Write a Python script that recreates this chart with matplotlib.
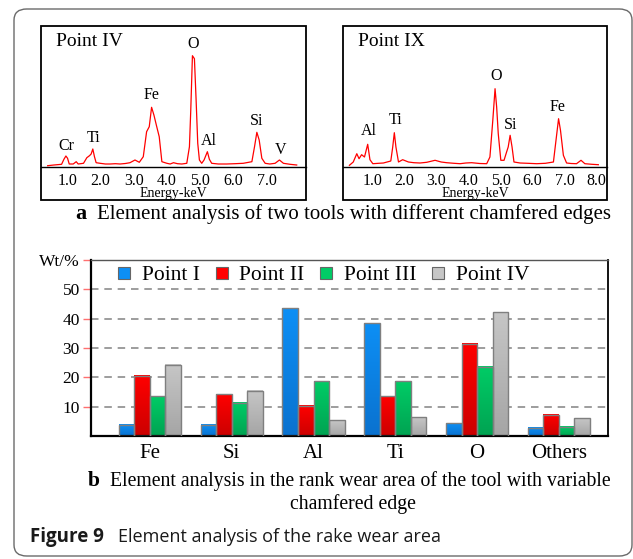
import numpy as np
import matplotlib
matplotlib.use("Agg")
import matplotlib.pyplot as plt
from matplotlib.patches import FancyBboxPatch, Rectangle
from matplotlib.lines import Line2D
from matplotlib.colors import to_rgb

# ---------------- data ----------------
# EDS spectrum, Point IV (energy keV, intensity a.u.)
spec1_e = [0.41, 0.60, 0.83, 0.90, 0.96, 1.01, 1.06, 1.18, 1.27, 1.33, 1.49, 1.59, 1.67, 1.72, 1.77,
           1.82, 1.87, 1.99, 2.15, 2.29, 2.45, 2.59, 2.75, 2.89, 3.04, 3.17, 3.29, 3.39, 3.47, 3.54,
           3.61, 3.69, 3.77, 3.85, 4.00, 4.10, 4.20, 4.32, 4.45, 4.60, 4.68, 4.72, 4.77, 4.83, 4.88,
           4.93, 4.98, 5.05, 5.12, 5.22, 5.28, 5.35, 5.55, 5.80, 6.05, 6.30, 6.56, 6.64, 6.71, 6.78,
           6.86, 6.96, 7.10, 7.26, 7.39, 7.51, 7.71, 7.91]
spec1_i = [1.3, 2.0, 2.7, 7.7, 11.0, 8.7, 3.0, 3.0, 5.3, 3.0, 3.7, 9.3, 11.3, 13.0, 18.0,
           10.3, 4.3, 3.7, 3.0, 3.0, 3.3, 3.0, 3.5, 4.3, 7.0, 4.7, 10.3, 35.3, 40.3, 59.7,
           52.0, 41.0, 30.3, 5.3, 3.7, 3.0, 4.3, 3.3, 3.0, 3.7, 20.3, 57.0, 111.3, 108.3, 67.7,
           23.7, 7.0, 3.7, 7.0, 15.3, 7.7, 3.7, 3.0, 3.0, 3.3, 3.7, 5.3, 20.3, 34.7, 27.0,
           8.7, 3.7, 3.0, 3.7, 7.0, 3.7, 2.7, 2.0]
labels1 = ["Cr", "Ti", "Fe", "O", "Al", "Si", "V"]
labels1_e = [0.96, 1.80, 3.55, 4.80, 5.25, 6.70, 7.42]
labels1_i = [21, 29, 72, 123, 26, 46, 17]
ticks1 = [1.0, 2.0, 3.0, 4.0, 5.0, 6.0, 7.0]

# EDS spectrum, Point IX
spec2_e = [0.29, 0.41, 0.52, 0.59, 0.67, 0.76, 0.86, 0.93, 1.02, 1.20, 1.35, 1.58, 1.64, 1.69, 1.74,
           1.82, 1.95, 2.13, 2.30, 2.49, 2.70, 2.96, 3.15, 3.32, 3.55, 3.74, 3.92, 4.10, 4.35, 4.57,
           4.67, 4.76, 4.83, 4.88, 4.93, 5.01, 5.11, 5.19, 5.24, 5.30, 5.36, 5.42, 5.61, 5.85, 6.13,
           6.40, 6.65, 6.73, 6.81, 6.87, 6.96, 7.06, 7.20, 7.37, 7.51, 7.63, 7.85, 8.05]
spec2_i = [1.7, 5.0, 13.3, 8.3, 12.3, 10.0, 22.7, 7.3, 3.3, 3.7, 4.0, 6.0, 20.0, 34.3, 20.0,
           5.0, 7.3, 5.0, 4.3, 4.0, 4.7, 6.7, 5.0, 4.3, 3.7, 3.3, 4.0, 4.3, 3.5, 3.3,
           10.0, 46.7, 78.3, 60.0, 33.3, 6.7, 6.7, 15.0, 20.0, 31.7, 20.0, 5.0, 4.0, 3.7, 3.3,
           3.7, 5.0, 26.7, 48.3, 36.7, 11.7, 4.0, 3.5, 3.3, 6.7, 3.3, 2.7, 2.3]
labels2 = ["Al", "Ti", "O", "Si", "Fe"]
labels2_e = [0.90, 1.72, 4.85, 5.33, 6.78]
labels2_i = [36, 47, 91, 42, 60]
ticks2 = [1.0, 2.0, 3.0, 4.0, 5.0, 6.0, 7.0, 8.0]

# Element wt% at four points
elements = ["Fe", "Si", "Al", "Ti", "O", "Others"]
series = ["Point I", "Point II", "Point III", "Point IV"]
point1 = [3.9, 3.9, 43.6, 38.5, 4.4, 2.8]
point2 = [20.5, 14.3, 10.3, 13.6, 31.4, 7.2]
point3 = [13.6, 11.4, 18.6, 18.6, 23.6, 3.2]
point4 = [24.3, 15.4, 5.4, 6.4, 42.2, 6.1]
yticks = [10, 20, 30, 40, 50, 60]
ytick_labels = ["10", "20", "30", "40", "50", "Wt/%"]

# ---------------- figure ----------------
W, H = 633, 559
fig = plt.figure(figsize=(W / 100, H / 100), dpi=100)
serif = ["Liberation Serif", "DejaVu Serif"]
plt.rcParams["font.family"] = serif


def fx(px):
    return px / W


def fy(py):
    return 1 - py / H


# outer rounded frame
fig.patches.append(FancyBboxPatch((fx(14), fy(556)), fx(632) - fx(14), fy(9) - fy(556),
                                  boxstyle="round,pad=0,rounding_size=0.02",
                                  transform=fig.transFigure, fill=False,
                                  edgecolor="#6a6a6a", linewidth=1.0))


def spectrum(left, right, e, inten, xlim, title, labs, labs_e, labs_i, ticks):
    ax = fig.add_axes([fx(left), fy(167), fx(right) - fx(left), fy(26) - fy(167)])
    ax.plot(e, inten, color="#ff0000", linewidth=0.9)
    ax.set_xlim(*xlim)
    ax.set_ylim(0, 141)
    for s in ["top", "left", "right"]:
        ax.spines[s].set_visible(False)
    ax.spines["bottom"].set_linewidth(1.0)
    ax.spines["bottom"].set_color("black")
    ax.set_yticks([])
    ax.set_xticks(ticks)
    ax.set_xticklabels([f"{t:.1f}" for t in ticks], fontsize=11.5)
    ax.tick_params(axis="x", length=0, pad=4)
    ax.set_xlabel("Energy-keV", fontsize=10, labelpad=-1)
    ax.text(0.055, 0.89, title, transform=ax.transAxes, fontsize=14, va="center", ha="left")
    for l, le, li in zip(labs, labs_e, labs_i):
        ax.text(le, li, l, fontsize=11.5, ha="center", va="center")
    fig.patches.append(Rectangle((fx(left), fy(200)), fx(right) - fx(left), fy(26) - fy(200),
                                 transform=fig.transFigure, fill=False,
                                 edgecolor="black", linewidth=1.3))
    return ax


spectrum(41, 306, spec1_e, spec1_i, (0.21, 8.19), "Point IV", labels1, labels1_e, labels1_i, ticks1)
spectrum(343, 607, spec2_e, spec2_i, (0.09, 8.32), "Point IX", labels2, labels2_e, labels2_i, ticks2)

# caption a
fig.text(fx(75), fy(214), "a", fontsize=16, fontweight="bold", va="center", ha="left")
fig.text(fx(97), fy(214), "Element analysis of two tools with different chamfered edges",
         fontsize=15, va="center", ha="left")

# ---------------- bar chart ----------------
ax = fig.add_axes([fx(91), fy(436), fx(608) - fx(91), fy(260) - fy(436)])
x = np.arange(len(elements))
bw = 0.19
offsets = [-1.5, -0.5, 0.5, 1.5]
data = [point1, point2, point3, point4]
grads = [("#0d8ff5", "#0a72cf"), ("#ff0000", "#cc0000"), ("#00cc66", "#00a352"), ("#c6c6c6", "#a5a5a5")]

for vals, off, (ctop, cbot) in zip(data, offsets, grads):
    bars = ax.bar(x + off * bw, vals, width=bw, facecolor="none", edgecolor="#7f7f7f",
                  linewidth=1.0, zorder=3)
    top = np.array(to_rgb(ctop))
    bot = np.array(to_rgb(cbot))
    for p in bars.patches:
        x0, y0 = p.get_x(), p.get_y()
        w, h = p.get_width(), p.get_height()
        n = 64
        t = np.linspace(0, 1, n)[:, None]
        img = (top[None, :] * (1 - t) + bot[None, :] * t)[:, None, :]
        ax.imshow(img, extent=[x0, x0 + w, y0, y0 + h], aspect="auto", origin="upper",
                  zorder=2, interpolation="bilinear")

ax.set_xlim(-0.72, 5.6)
ax.set_ylim(0, 60)
ax.set_yticks(yticks)
ax.set_yticklabels(ytick_labels, fontsize=12.5)
ax.tick_params(axis="y", length=6, color="#ff7070", width=1.0, pad=2)
ax.set_xticks(x)
ax.set_xticklabels(elements, fontsize=15)
ax.tick_params(axis="x", length=0, pad=6)
for yv in [10, 20, 30, 40, 50]:
    ax.axhline(yv, color="#8c8c8c", linestyle=(0, (4.5, 3.5)), linewidth=1.2, zorder=1)
for s in ["left", "bottom"]:
    ax.spines[s].set_linewidth(1.6)
    ax.spines[s].set_color("black")
ax.spines["right"].set_linewidth(1.3)
ax.spines["right"].set_color("black")
ax.spines["top"].set_linewidth(1.0)
ax.spines["top"].set_color("#555555")

handles = [Line2D([], [], linestyle="none", marker="s", markersize=8,
                  markerfacecolor=c[0], markeredgecolor="#666666", markeredgewidth=0.8)
           for c in grads]
fig.legend(handles, series, loc="center", bbox_to_anchor=(fx(323), fy(275)),
           bbox_transform=fig.transFigure, ncol=4, frameon=False, fontsize=15.5,
           handlelength=0.7, handletextpad=0.45, columnspacing=0.68, borderpad=0)

# caption b
fig.text(fx(88), fy(481), "b", fontsize=15.5, fontweight="bold", va="center", ha="left")
fig.text(fx(110), fy(481), "Element analysis in the rank wear area of the tool with variable",
         fontsize=14.2, va="center", ha="left")
fig.text(fx(353), fy(504), "chamfered edge", fontsize=14.2, va="center", ha="center")

# figure caption
fig.text(fx(30), fy(537), "Figure 9", fontsize=13.5, fontweight="bold", va="center", ha="left",
         family=["Open Sans", "DejaVu Sans"], color="#1a1a1a")
fig.text(fx(118), fy(537), "Element analysis of the rake wear area", fontsize=13,
         va="center", ha="left", family=["Open Sans", "DejaVu Sans"], color="#1a1a1a")

fig.savefig("out.png", dpi=100)
